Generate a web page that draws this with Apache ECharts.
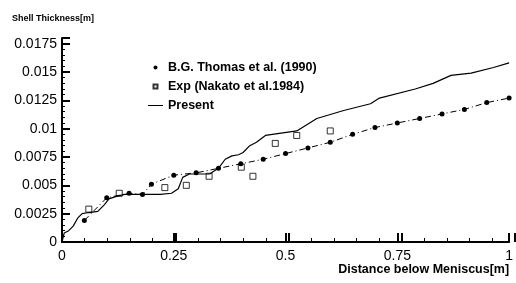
<!DOCTYPE html>
<html>
<head>
<meta charset="utf-8">
<script src="https://cdn.jsdelivr.net/npm/echarts@6/dist/echarts.min.js"></script>
<style>
  html, body { margin: 0; padding: 0; background: #fff; }
  #chart { width: 516px; height: 283px; }
</style>
</head>
<body>
<div id="chart"></div>
<script>
// Present (solid line)
const presentX = [0, 0.005, 0.015, 0.025, 0.035, 0.045, 0.06, 0.08, 0.095, 0.105, 0.12, 0.14, 0.18, 0.22, 0.245, 0.26, 0.27, 0.285, 0.33, 0.35, 0.365, 0.38, 0.395, 0.405, 0.42, 0.435, 0.455, 0.49, 0.525, 0.57, 0.63, 0.69, 0.71, 0.79, 0.83, 0.87, 0.915, 0.965, 1.0]
const presentY = [0, 0.0008, 0.001, 0.0014, 0.0021, 0.0025, 0.0026, 0.0027, 0.0033, 0.0038, 0.004, 0.0042, 0.0042, 0.0042, 0.0043, 0.0047, 0.0057, 0.006, 0.006, 0.0065, 0.0073, 0.0076, 0.0077, 0.0079, 0.0085, 0.0088, 0.0094, 0.0096, 0.0098, 0.0109, 0.0116, 0.0122, 0.0127, 0.0135, 0.014, 0.0147, 0.0149, 0.0154, 0.0158]

// B.G. Thomas et al. (1990)
const thomasX = [0.05, 0.1, 0.15, 0.18, 0.2, 0.25, 0.3, 0.35, 0.4, 0.45, 0.5, 0.55, 0.6, 0.65, 0.7, 0.75, 0.8, 0.85, 0.9, 0.95, 1.0]
const thomasY = [0.0019, 0.0039, 0.0043, 0.0042, 0.0051, 0.0059, 0.0061, 0.0065, 0.0069, 0.0073, 0.0078, 0.0083, 0.0088, 0.0095, 0.0101, 0.0105, 0.0109, 0.0113, 0.0117, 0.0123, 0.0127]

// Exp (Nakato et al.1984)
const expX = [0.06, 0.128, 0.23, 0.278, 0.329, 0.401, 0.427, 0.477, 0.525, 0.6]
const expY = [0.0029, 0.0043, 0.0048, 0.005, 0.0058, 0.0066, 0.0058, 0.0087, 0.0094, 0.0098]

const xTicks = [0, 1, 0.25, 0.05]   // min, max, major step, minor step
const yTicks = [0, 0.018, 0.0025, 0.0005]

const zip = (xs, ys) => xs.map((x, i) => [x, ys[i]])
const font = "'Liberation Sans', Arial, sans-serif"
const black = '#000'

// thin strips along the axes: their split lines act as the tick marks
const G = { left: 62, right: 1, top: 38, bottom: 41 }
const strips = [
  { left: G.left, right: G.right, bottom: G.bottom, height: 9 },  // x major
  { left: G.left, right: G.right, bottom: G.bottom, height: 4 },  // x minor
  { left: G.left, width: 8, top: G.top, bottom: G.bottom },       // y major
  { left: G.left, width: 3, top: G.top, bottom: G.bottom }        // y minor
]
function tickAxis(grid, t, step, w) {
  return {
    type: 'value', gridIndex: grid, min: t[0], max: t[1], interval: step,
    axisLine: { show: false }, axisTick: { show: false }, axisLabel: { show: false },
    splitLine: { show: true, lineStyle: { color: black, width: w } }
  }
}
const hidden = grid => ({ type: 'value', gridIndex: grid, show: false, splitLine: { show: false } })

const chart = echarts.init(document.getElementById('chart'))
chart.setOption({
  animation: false,
  backgroundColor: '#fff',
  title: {
    text: 'Shell Thickness[m]',
    left: 7,
    top: 9,
    textStyle: { fontFamily: font, fontSize: 9, fontWeight: 'bold', color: black }
  },
  legend: {
    orient: 'vertical',
    left: 143,
    top: 56,
    itemWidth: 15,
    itemHeight: 4,
    itemGap: 6,
    textStyle: { fontFamily: font, fontSize: 12.5, fontWeight: 'bold', color: black },
    data: [
      { name: 'B.G. Thomas et al. (1990)', icon: 'circle' },
      { name: 'Exp (Nakato et al.1984)', icon: 'path://M0,0H1V1H0Z' },
      { name: 'Present', icon: 'path://M0,0H15V1H0Z' }
    ]
  },
  grid: [G].concat(strips),
  xAxis: [{
    type: 'value',
    min: xTicks[0],
    max: xTicks[1],
    interval: xTicks[2],
    name: 'Distance below Meniscus[m]',
    nameLocation: 'end',
    nameGap: 0,
    nameTextStyle: {
      fontFamily: font, fontSize: 12.5, fontWeight: 'bold', color: black,
      align: 'right', verticalAlign: 'top', padding: [21, 0, 0, 0]
    },
    axisLine: { show: true, lineStyle: { color: black, width: 2 } },
    axisTick: { show: true, inside: true, length: 9, lineStyle: { color: black, width: 2 } },
    axisLabel: { fontFamily: font, fontSize: 14, color: black, margin: 7 },
    splitLine: { show: false }
  },
    tickAxis(1, xTicks, xTicks[2], 2),
    tickAxis(2, xTicks, xTicks[3], 1),
    hidden(3), hidden(4)
  ],
  yAxis: [{
    type: 'value',
    min: yTicks[0],
    max: yTicks[1],
    interval: yTicks[2],
    axisLine: { show: true, lineStyle: { color: black, width: 2 } },
    axisTick: { show: true, inside: true, length: 8, lineStyle: { color: black, width: 2 } },
    axisLabel: { fontFamily: font, fontSize: 14, color: black, margin: 5, showMaxLabel: false },
    splitLine: { show: false }
  },
    hidden(1), hidden(2),
    tickAxis(3, yTicks, yTicks[2], 2),
    tickAxis(4, yTicks, yTicks[3], 1)
  ],
  series: [
    {
      name: 'B.G. Thomas et al. (1990)',
      type: 'line',
      data: zip(thomasX, thomasY),
      symbol: 'circle',
      symbolSize: 5,
      itemStyle: { color: black },
      lineStyle: { color: black, width: 1, type: [6, 3, 1, 3] }
    },
    {
      name: 'Exp (Nakato et al.1984)',
      type: 'scatter',
      data: zip(expX, expY),
      symbol: 'rect',
      symbolSize: 6,
      itemStyle: { color: '#fff', borderColor: black, borderWidth: 1 }
    },
    {
      name: 'Present',
      type: 'line',
      data: zip(presentX, presentY),
      symbol: 'none',
      itemStyle: { color: black },
      lineStyle: { color: black, width: 1.2 }
    }
  ]
})
</script>
</body>
</html>
